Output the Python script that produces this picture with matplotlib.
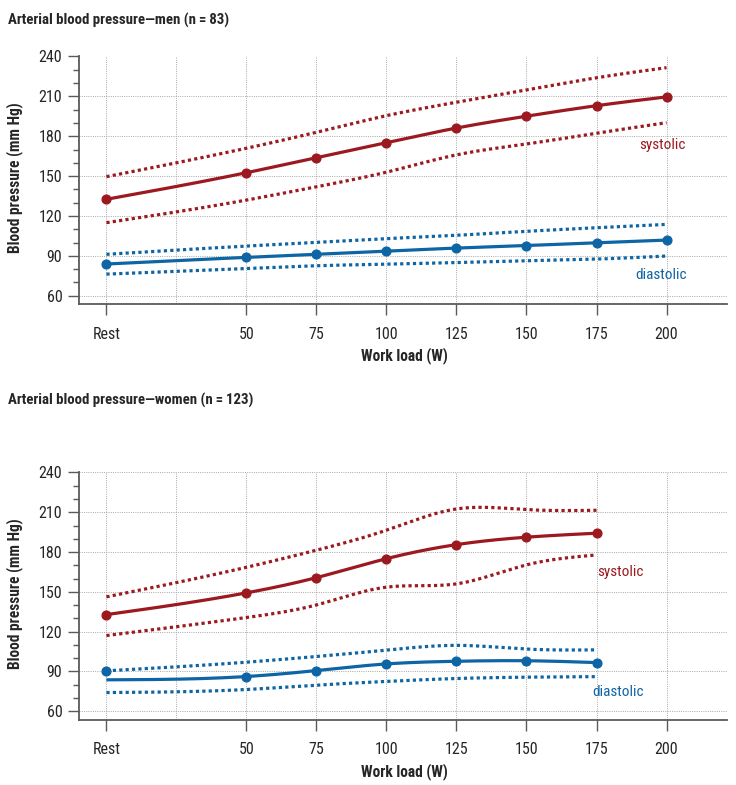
import numpy as np
import matplotlib
matplotlib.use("Agg")
import matplotlib.pyplot as plt

plt.rcParams['font.family'] = ['Liberation Sans Narrow', 'Roboto Condensed', 'Arial Narrow',
                               'Liberation Sans', 'DejaVu Sans']

# ---------------- data ----------------
workload = [0, 50, 75, 100, 125, 150, 175, 200]          # 0 = Rest
tick_values = [0, 50, 75, 100, 125, 150, 175, 200]
tick_labels = ["Rest", "50", "75", "100", "125", "150", "175", "200"]
y_ticks = [60, 90, 120, 150, 180, 210, 240]

men_sys_mean = [132.6, 152.6, 163.9, 175.2, 186.2, 195.1, 203.0, 209.6]
men_sys_upper = [149.6, 171.0, 183.0, 195.5, 205.6, 214.9, 224.0, 231.6]
men_sys_lower = [115.0, 132.0, 142.0, 153.0, 166.0, 174.2, 182.3, 190.2]
men_dia_mean = [83.9, 88.9, 91.2, 93.6, 95.9, 97.8, 99.9, 101.9]
men_dia_upper = [91.2, 97.4, 100.2, 103.0, 105.5, 108.5, 111.2, 113.7]
men_dia_lower = [76.3, 80.6, 82.6, 83.8, 85.0, 86.3, 87.6, 89.9]

women_workload = [0, 50, 75, 100, 125, 150, 175]
women_sys_mean = [132.8, 149.2, 160.7, 175.0, 185.6, 191.2, 194.2]
women_sys_upper = [146.2, 168.5, 181.4, 196.5, 212.5, 212.0, 211.5]
women_sys_lower = [117.0, 130.6, 140.1, 153.5, 156.0, 170.3, 177.8]
women_dia_mean = [90.4, 86.1, 90.6, 95.6, 97.6, 98.0, 96.6]      # markers
women_dia_curve = [83.6, 86.1, 90.6, 95.6, 97.6, 98.0, 96.6]     # drawn line
women_dia_upper = [90.4, 96.9, 101.2, 106.0, 109.6, 106.8, 106.2]
women_dia_lower = [74.0, 76.3, 79.6, 82.4, 84.6, 85.6, 86.0]

RED = '#9c1a1f'
BLUE = '#0e65a5'
GRID = '#a8a8a8'
SPINE = '#5a5a5a'
TXT = '#262626'


def spline(x, y, n=300):
    """Natural cubic spline through the points (for smooth drawing)."""
    x = np.asarray(x, float)
    y = np.asarray(y, float)
    k = len(x)
    h = np.diff(x)
    A = np.zeros((k, k))
    b = np.zeros(k)
    A[0, 0] = A[-1, -1] = 1
    for i in range(1, k - 1):
        A[i, i - 1] = h[i - 1]
        A[i, i] = 2 * (h[i - 1] + h[i])
        A[i, i + 1] = h[i]
        b[i] = 6 * ((y[i + 1] - y[i]) / h[i] - (y[i] - y[i - 1]) / h[i - 1])
    M = np.linalg.solve(A, b)
    xs = np.linspace(x[0], x[-1], n)
    ys = np.empty_like(xs)
    for j, xv in enumerate(xs):
        i = min(np.searchsorted(x, xv, side='right') - 1, k - 2)
        t1 = x[i + 1] - xv
        t0 = xv - x[i]
        ys[j] = (M[i] * t1 ** 3 / (6 * h[i]) + M[i + 1] * t0 ** 3 / (6 * h[i])
                 + (y[i] / h[i] - M[i] * h[i] / 6) * t1
                 + (y[i + 1] / h[i] - M[i + 1] * h[i] / 6) * t0)
    return xs, ys


W, H = 736, 785
fig = plt.figure(figsize=(W / 100, H / 100), dpi=100)


def make_axes(top_px, bottom_px):
    left_px, right_px = 79, 727
    return fig.add_axes([left_px / W, 1 - bottom_px / H,
                         (right_px - left_px) / W, (bottom_px - top_px) / H])


def style_axes(ax):
    ax.set_xlim(-9.8, 221.6)
    ax.set_ylim(53.6, 240)
    for s in ['top', 'right']:
        ax.spines[s].set_visible(False)
    for s in ['left', 'bottom']:
        ax.spines[s].set_color(SPINE)
        ax.spines[s].set_linewidth(1.3)
    ax.set_yticks(y_ticks)
    ax.set_yticks(np.arange(60, 241, 10), minor=True)
    ax.set_xticks(tick_values)
    ax.set_xticklabels(tick_labels)
    ax.tick_params(axis='y', which='major', length=8, width=1, color=SPINE,
                   labelsize=11.5, pad=4, labelcolor=TXT)
    ax.tick_params(axis='y', which='minor', length=4, width=1, color=SPINE)
    ax.tick_params(axis='x', which='major', length=8, width=1, color=SPINE,
                   labelsize=11.5, pad=8, labelcolor=TXT)
    # grid
    for yv in y_ticks:
        ax.axhline(yv, color=GRID, lw=0.7, ls=(0, (1, 1.3)), zorder=0)
    for xv in np.arange(0, 201, 25):
        ax.axvline(xv, color=GRID, lw=0.7, ls=(0, (1, 1.3)), zorder=0)


def draw_series(ax, x, mean, upper, lower, color, marker_vals=None):
    xs, ys = spline(x, mean)
    ax.plot(xs, ys, color=color, lw=2.3, solid_capstyle='butt', zorder=3)
    mv = mean if marker_vals is None else marker_vals
    ax.plot(x, mv, 'o', color=color, ms=6.3, zorder=4)
    for band in (upper, lower):
        xs, ys = spline(x, band)
        ax.plot(xs, ys, color=color, lw=2.3, ls=(0, (1, 1)),
                dash_capstyle='butt', zorder=3)


LBL = 11

# ---------- top: men ----------
ax1 = make_axes(56.5, 304.3)
style_axes(ax1)
draw_series(ax1, workload, men_sys_mean, men_sys_upper, men_sys_lower, RED)
draw_series(ax1, workload, men_dia_mean, men_dia_upper, men_dia_lower, BLUE)
ax1.text(190.3, 173.5, "systolic", color=RED, fontsize=LBL, va='center', ha='left')
ax1.text(189.0, 75.5, "diastolic", color=BLUE, fontsize=LBL, va='center', ha='left')

# ---------- bottom: women ----------
ax2 = make_axes(472.5, 719.6)
style_axes(ax2)
draw_series(ax2, women_workload, women_sys_mean, women_sys_upper, women_sys_lower, RED)
draw_series(ax2, women_workload, women_dia_curve, women_dia_upper, women_dia_lower, BLUE,
            marker_vals=women_dia_mean)
ax2.text(175.3, 165.0, "systolic", color=RED, fontsize=LBL, va='center', ha='left')
ax2.text(173.6, 74.6, "diastolic", color=BLUE, fontsize=LBL, va='center', ha='left')

# ---------- texts ----------
fig.text(8 / W, 1 - 20 / H, "Arterial blood pressure\u2014men (n\u2009=\u200983)",
         fontsize=10.7, fontweight='bold', ha='left', va='center', color=TXT)
fig.text(8 / W, 1 - 400 / H, "Arterial blood pressure\u2014women (n\u2009=\u2009123)",
         fontsize=10.7, fontweight='bold', ha='left', va='center', color=TXT)
for yc, xl_y in ((178, 356), (594, 772)):
    fig.text(15 / W, 1 - yc / H, "Blood pressure (mm Hg)", rotation=90,
             fontsize=11.2, fontweight='bold', ha='center', va='center', color=TXT)
    fig.text(404 / W, 1 - xl_y / H, "Work load (W)", fontsize=11.2,
             fontweight='bold', ha='center', va='center', color=TXT)

fig.savefig("out.png", dpi=100)
